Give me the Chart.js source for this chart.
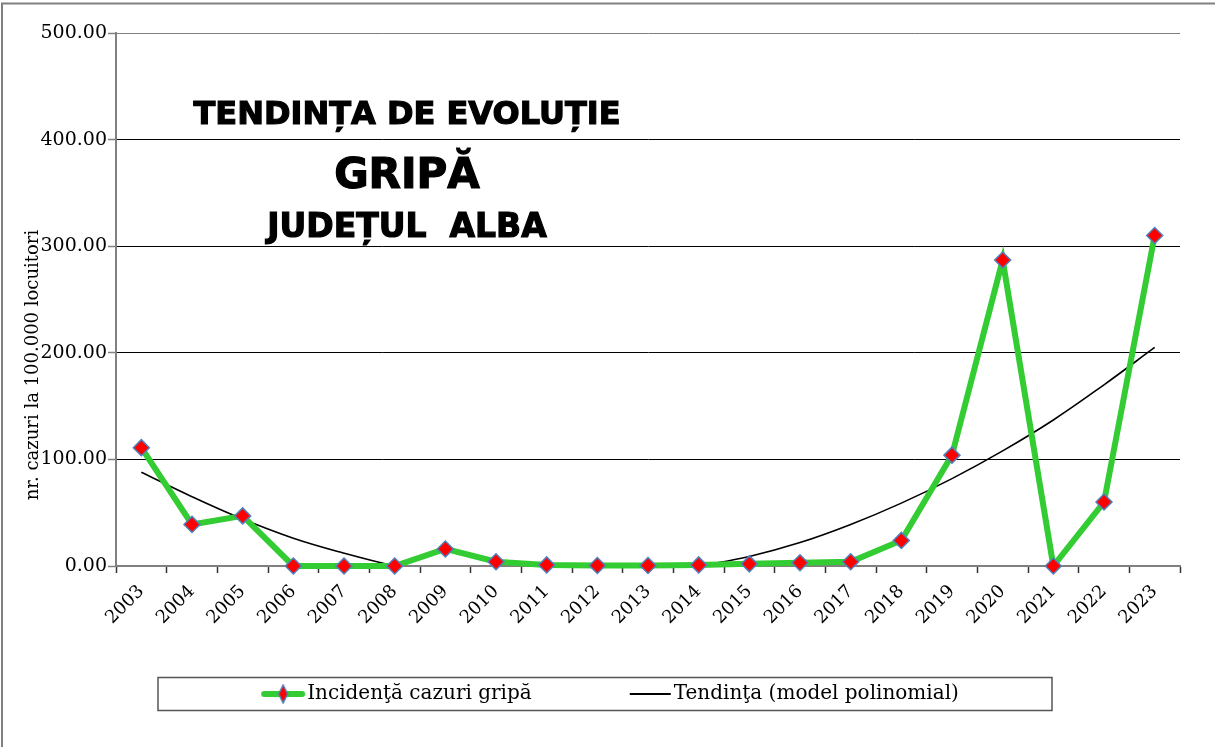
<!DOCTYPE html>
<html>
<head>
<meta charset="utf-8">
<script src="https://cdn.jsdelivr.net/npm/chart.js@4.4.0/dist/chart.umd.min.js"></script>
<style>
  html, body { margin: 0; padding: 0; background: #fff; }
</style>
</head>
<body>
<canvas id="chart" width="1215" height="747"></canvas>
<script>
// ---------- Data ----------
const years = ["2003", "2004", "2005", "2006", "2007", "2008", "2009", "2010", "2011", "2012", "2013",
  "2014", "2015", "2016", "2017", "2018", "2019", "2020", "2021", "2022", "2023"];
const incidence = [111, 39, 47, 0, 0, 0, 16, 4, 1, 0.5, 0.5, 1, 2, 3, 4, 24, 104, 287, 0, 60, 310];
// polynomial trend (the part under 0 is hidden by the axis)
const trend = [88, 65, 44, 26, 12, 0, -9, -14, -16, -14, -9, 0, 9, 22, 39, 59, 82, 108, 137, 170, 205];
const yTicks = [0, 100, 200, 300, 400, 500];

const titleLines = ["TENDINȚA DE EVOLUȚIE", "GRIPĂ", "JUDEȚUL  ALBA"];
const seriesNames = ["Incidenţă cazuri gripă", "Tendinţa (model polinomial)"];
const yAxisTitle = "nr. cazuri la 100.000 locuitori";

// ---------- Colours ----------
const GREEN = "#33cc33";
const RED = "#ff0000";
const BLUE = "#4f81bd";
const GRAY = "#808080";

// ---------- Legend icons ----------
// icon sits at the right end of a wider canvas so the text follows it closely
const ICON_BOX = 76;
const ICON_W = ICON_BOX + 18;
function makeLegendIcon(kind) {
  const c = document.createElement("canvas");
  c.width = ICON_W;
  c.height = 20;
  const g = c.getContext("2d");
  const x0 = ICON_W - 45;
  if (kind === "incidence") {
    g.strokeStyle = GREEN;
    g.lineWidth = 6;
    g.lineCap = "round";
    g.beginPath(); g.moveTo(x0 + 3, 10); g.lineTo(x0 + 41, 10); g.stroke();
    g.fillStyle = RED;
    g.strokeStyle = BLUE;
    g.lineWidth = 1.5;
    g.beginPath();
    g.moveTo(x0 + 22, 1); g.lineTo(x0 + 26.5, 10); g.lineTo(x0 + 22, 19); g.lineTo(x0 + 17.5, 10);
    g.closePath(); g.fill(); g.stroke();
  } else {
    g.strokeStyle = "#000";
    g.lineWidth = 2;
    g.beginPath(); g.moveTo(x0 + 2, 10); g.lineTo(x0 + 43, 10); g.stroke();
  }
  return c;
}
const legendIcons = [makeLegendIcon("incidence"), makeLegendIcon("trend")];

// ---------- Extra drawing: frame, headline, y title, legend box ----------
const decorPlugin = {
  id: "decor",
  beforeDraw(chart) {
    const { ctx } = chart;
    ctx.save();
    ctx.fillStyle = "#fff";
    ctx.fillRect(0, 0, chart.width, chart.height);
    ctx.restore();
  },
  afterDraw(chart) {
    const { ctx, chartArea } = chart;
    ctx.save();

    // outer frame (only left and top edges are inside the picture)
    ctx.strokeStyle = GRAY;
    ctx.lineWidth = 2;
    ctx.beginPath();
    ctx.moveTo(2, chart.height);
    ctx.lineTo(2, 3.5);
    ctx.lineTo(chart.width, 3.5);
    ctx.stroke();

    // headline inside the plot
    const cx = chartArea.left + 291;
    ctx.fillStyle = "#000";
    ctx.strokeStyle = "#000";
    ctx.lineWidth = 1.2;
    ctx.textAlign = "center";
    ctx.textBaseline = "alphabetic";
    const heads = [[titleLines[0], 32, 91], [titleLines[1], 42, 155], [titleLines[2], 33, 204]];
    heads.forEach(([txt, size, dy]) => {
      ctx.font = "bold " + size + "px 'DejaVu Sans'";
      ctx.fillText(txt, cx, chartArea.top + dy);
      ctx.strokeText(txt, cx, chartArea.top + dy);
    });

    // y axis title
    ctx.save();
    ctx.translate(chartArea.left - 83, chartArea.bottom - 201);
    ctx.rotate(-Math.PI / 2);
    ctx.textBaseline = "middle";
    ctx.font = "18px 'DejaVu Serif'";
    ctx.fillText(yAxisTitle, 0, 0);
    ctx.restore();

    // legend box
    const lg = chart.legend;
    const midY = lg.top + lg.options.labels.padding + 10;
    ctx.strokeStyle = "#555";
    ctx.lineWidth = 1.5;
    ctx.strokeRect(158, midY - 16.5, 894, 33);

    ctx.restore();
  }
};

// ---------- Chart ----------
const ctx = document.getElementById("chart").getContext("2d");
new Chart(ctx, {
  type: "line",
  data: {
    labels: years,
    datasets: [
      {
        label: seriesNames[0],
        data: incidence,
        borderColor: GREEN,
        borderWidth: 6,
        pointStyle: "rectRot",
        pointRadius: 8,
        pointBackgroundColor: RED,
        pointBorderColor: BLUE,
        pointBorderWidth: 1.5,
        tension: 0,
        clip: false
      },
      {
        label: seriesNames[1],
        data: trend,
        borderColor: "#000",
        borderWidth: 1.6,
        pointRadius: 0,
        tension: 0.4
      }
    ]
  },
  options: {
    responsive: false,
    animation: false,
    layout: { padding: { top: 33, bottom: 33, left: 0, right: 35 } },
    scales: {
      x: {
        offset: true,
        grid: { display: true, drawOnChartArea: false, offset: true, tickLength: 7, tickColor: "#333", tickWidth: 1.5 },
        border: { color: GRAY, width: 2 },
        ticks: {
          color: "#000",
          font: { family: "DejaVu Serif", size: 18 },
          minRotation: 45,
          maxRotation: 45,
          padding: 8,
          autoSkip: false
        },
        afterFit: s => { s.height = 62; }
      },
      y: {
        min: 0,
        max: 500,
        afterBuildTicks: s => { s.ticks = yTicks.map(v => ({ value: v })); },
        ticks: {
          color: "#000",
          font: { family: "DejaVu Serif", size: 19 },
          padding: 1,
          callback: v => Number(v).toFixed(2)
        },
        grid: {
          color: c => (c.tick && c.tick.value === 500 ? GRAY : "#000"),
          lineWidth: 1,
          tickLength: 8,
          tickColor: GRAY,
          tickWidth: 1.5
        },
        border: { color: GRAY, width: 2 },
        afterFit: s => { s.width = 116; }
      }
    },
    plugins: {
      title: { display: false },
      tooltip: { enabled: false },
      legend: {
        position: "bottom",
        labels: {
          usePointStyle: true,
          pointStyleWidth: ICON_BOX,
          padding: 56,
          color: "#000",
          font: { family: "DejaVu Serif", size: 20 },
          generateLabels: chart => chart.data.datasets.map((ds, i) => ({
            text: ds.label,
            pointStyle: legendIcons[i],
            fillStyle: "transparent",
            strokeStyle: "transparent",
            lineWidth: 0,
            hidden: false,
            datasetIndex: i,
            fontColor: "#000"
          }))
        }
      }
    }
  },
  plugins: [decorPlugin]
});
</script>
</body>
</html>
